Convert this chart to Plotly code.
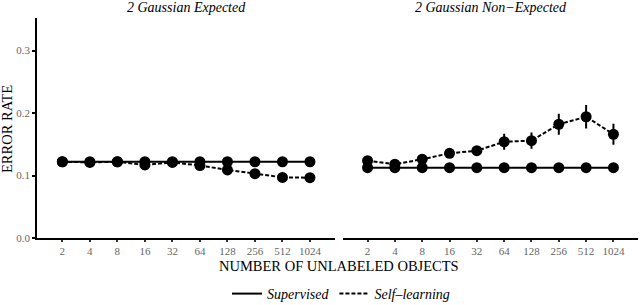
import plotly.graph_objects as go

# ---- data ----
n_unlabeled = ["2", "4", "8", "16", "32", "64", "128", "256", "512", "1024"]
panel_titles = ["2 Gaussian Expected", "2 Gaussian Non\u2212Expected"]

exp_supervised = [0.122, 0.122, 0.122, 0.122, 0.122, 0.122, 0.122, 0.122, 0.122, 0.122]
exp_supervised_err = [0.002] * 10
exp_self = [0.122, 0.121, 0.122, 0.117, 0.121, 0.116, 0.109, 0.103, 0.097, 0.0965]
exp_self_err = [0.002, 0.002, 0.002, 0.003, 0.002, 0.003, 0.004, 0.004, 0.003, 0.003]

non_supervised = [0.1125, 0.1125, 0.1125, 0.1125, 0.1125, 0.1125, 0.1125, 0.1125, 0.1125, 0.1125]
non_supervised_err = [0.002] * 10
non_self = [0.1237, 0.118, 0.126, 0.1355, 0.1397, 0.154, 0.1557, 0.182, 0.194, 0.166]
non_self_err = [0.004, 0.003, 0.007, 0.005, 0.005, 0.0128, 0.013, 0.0168, 0.019, 0.0168]

series_names = ["Supervised", "Self\u2013learning"]
y_ticks = [0.0, 0.1, 0.2, 0.3]

FONT = "Liberation Serif"
W, H = 640, 305
DASH = "4px,2px"

fig = go.Figure()

panels = [
    ("x", "y", exp_supervised, exp_supervised_err, exp_self, exp_self_err),
    ("x2", "y2", non_supervised, non_supervised_err, non_self, non_self_err),
]
for xa, ya, sup, sup_e, slf, slf_e in panels:
    fig.add_trace(go.Scatter(
        x=n_unlabeled, y=sup, xaxis=xa, yaxis=ya, mode="lines+markers",
        line=dict(color="black", width=2),
        marker=dict(color="black", size=11),
        error_y=dict(type="data", array=sup_e, color="black", thickness=2, width=0),
        showlegend=False, name=series_names[0]))
    fig.add_trace(go.Scatter(
        x=n_unlabeled, y=slf, xaxis=xa, yaxis=ya, mode="lines+markers",
        line=dict(color="black", width=2, dash=DASH),
        marker=dict(color="black", size=11),
        error_y=dict(type="data", array=slf_e, color="black", thickness=2, width=0),
        showlegend=False, name=series_names[1]))

# legend-only traces
fig.add_trace(go.Scatter(x=[None], y=[None], mode="lines", name=series_names[0],
                         line=dict(color="black", width=2)))
fig.add_trace(go.Scatter(x=[None], y=[None], mode="lines", name=series_names[1],
                         line=dict(color="black", width=2, dash=DASH)))

y_bottom = 1 - 238 / H
y_top = 1 - 18 / H
xr = [-0.91, 9.91]

common_x = dict(type="category", range=xr, showline=True, linecolor="black", linewidth=2,
                showgrid=False, zeroline=False, ticks="outside", ticklen=2, tickwidth=1.5,
                tickcolor="#333333", automargin=False,
                tickfont=dict(family=FONT, size=11, color="#666666"))
fig.update_layout(
    width=W, height=H,
    margin=dict(l=0, r=0, t=0, b=0, autoexpand=False),
    paper_bgcolor="white", plot_bgcolor="white",
    font=dict(family=FONT, color="black"),
    xaxis=dict(common_x, domain=[37.3 / W, 335 / W], anchor="y"),
    xaxis2=dict(common_x, domain=[342.7 / W, 638.3 / W], anchor="y2"),
    yaxis=dict(domain=[y_bottom, y_top], range=[0, 0.352], tickvals=y_ticks,
               tickformat=".1f", showline=True, linecolor="black", linewidth=2,
               ticks="outside", ticklen=3, tickwidth=2, tickcolor="black",
               showgrid=False, zeroline=False, automargin=False,
               tickfont=dict(family=FONT, size=11, color="#666666"), anchor="x"),
    yaxis2=dict(domain=[y_bottom, y_top], range=[0, 0.352], matches="y",
                showticklabels=False, showline=False, ticks="", automargin=False,
                showgrid=False, zeroline=False, anchor="x2"),
    legend=dict(orientation="h", x=341 / W, xanchor="center", y=1 - 294 / H, yanchor="middle",
                font=dict(family=FONT, size=14, style="italic"),
                bgcolor="rgba(0,0,0,0)"),
    showlegend=True,
)

annos = [
    dict(text=panel_titles[0], x=(37.3 + 335) / 2 / W, y=1 - 7 / H),
    dict(text=panel_titles[1], x=(342.7 + 638.3) / 2 / W, y=1 - 7 / H),
]
for a in annos:
    fig.add_annotation(xref="paper", yref="paper", x=a["x"], y=a["y"], text=a["text"],
                       showarrow=False, xanchor="center", yanchor="middle",
                       font=dict(family=FONT, size=14, style="italic", color="black"))
fig.add_annotation(xref="paper", yref="paper", x=339 / W, y=1 - 266 / H,
                   text="NUMBER OF UNLABELED OBJECTS", showarrow=False,
                   xanchor="center", yanchor="middle",
                   font=dict(family=FONT, size=14.5, color="black"))
fig.add_annotation(xref="paper", yref="paper", x=7 / W, y=1 - 129 / H,
                   text="ERROR RATE", showarrow=False, textangle=-90,
                   xanchor="center", yanchor="middle",
                   font=dict(family=FONT, size=14.5, color="black"))

fig.write_html("out.html", config={"displayModeBar": False},
               post_script="document.body.style.margin='0';")
